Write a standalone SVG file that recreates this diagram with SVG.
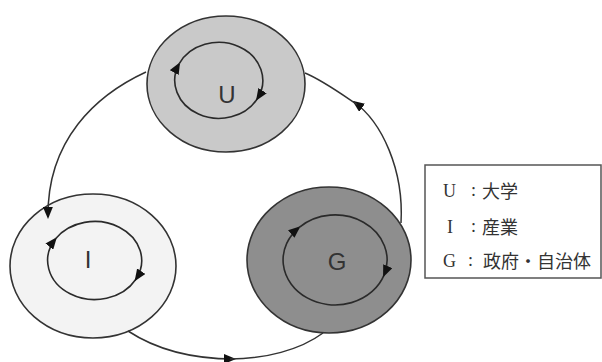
<svg xmlns="http://www.w3.org/2000/svg" width="602" height="362" viewBox="0 0 602 362">
<style>
.outer{stroke:#333;stroke-width:1.6}
.inner{fill:none;stroke:#2a2a2a;stroke-width:1.6}
.conn{fill:none;stroke:#333;stroke-width:1.5}
.lbl{font-family:"Liberation Sans",Arial,sans-serif;font-size:24px;fill:#333;text-anchor:middle}
.leg{font-family:"Liberation Serif","Noto Sans CJK JP",serif;font-size:18px;fill:#333}
.cjk{font-family:"Noto Sans CJK JP",sans-serif;font-size:18px;fill:#333}
</style>
<defs>
<marker id="ah" viewBox="0 0 12 10" refX="10" refY="5" markerWidth="12" markerHeight="10" markerUnits="userSpaceOnUse" orient="auto">
<path d="M0,0 L12,5 L0,10 z" fill="#111"/>
</marker>
</defs>
<rect width="602" height="362" fill="#fff"/>
<g id="node-U">
<ellipse class="outer" cx="226" cy="84" rx="79" ry="68" fill="#c9c9c9"/>
<path class="inner" d="M257.1,99 A44,38 0 0 1 179.1,63.9" marker-end="url(#ah)"/>
<path class="inner" d="M179.1,63.9 A44,38 0 1 1 257.1,99" marker-end="url(#ah)"/>
<text class="lbl" x="227" y="103">U</text>
</g>
<g id="node-I">
<ellipse class="outer" cx="93" cy="266" rx="83" ry="72" fill="#f3f3f3"/>
<path class="inner" d="M135.7,279.5 A47,39 0 1 1 55.6,238.8" marker-end="url(#ah)"/>
<path class="inner" d="M55.6,238.8 A47,39 0 0 1 135.7,279.5" marker-end="url(#ah)"/>
<text class="lbl" x="88" y="268">I</text>
</g>
<g id="node-G">
<ellipse class="outer" cx="329" cy="260" rx="82" ry="73" fill="#8e8e8e"/>
<path class="inner" d="M383.9,275.4 A52,45 0 1 1 298.9,227.6" marker-end="url(#ah)"/>
<path class="inner" d="M298.9,227.6 A52,45 0 0 1 383.9,275.4" marker-end="url(#ah)"/>
<text class="lbl" x="337" y="270">G</text>
</g>
<g id="connectors">
<path class="conn" d="M146,72 C96,95 47,140 48,217" marker-end="url(#ah)"/>
<path class="conn" d="M128,331 C160,352 195,359 234,359" marker-end="url(#ah)"/>
<path class="conn" d="M230,359 C265,359 300,350 323,333"/>
<path class="conn" d="M401,223 C404,170 382,122 354,102" marker-end="url(#ah)"/>
<path class="conn" d="M357,104.5 C340,93 322,80 305,73"/>
</g>
<g id="legend">
<rect x="425" y="165" width="176" height="113" fill="#fff" stroke="#555" stroke-width="1.5"/>
<text class="leg" x="443" y="197">U</text>
<text class="leg" x="471" y="196">:</text>
<text class="cjk" x="482" y="198">大学</text>
<text class="leg" x="447" y="233">I</text>
<text class="leg" x="471" y="232">:</text>
<text class="cjk" x="482" y="234">産業</text>
<text class="leg" x="443" y="267">G</text>
<text class="leg" x="468" y="266">:</text>
<text class="cjk" x="483" y="268">政府・自治体</text>
</g>
</svg>
